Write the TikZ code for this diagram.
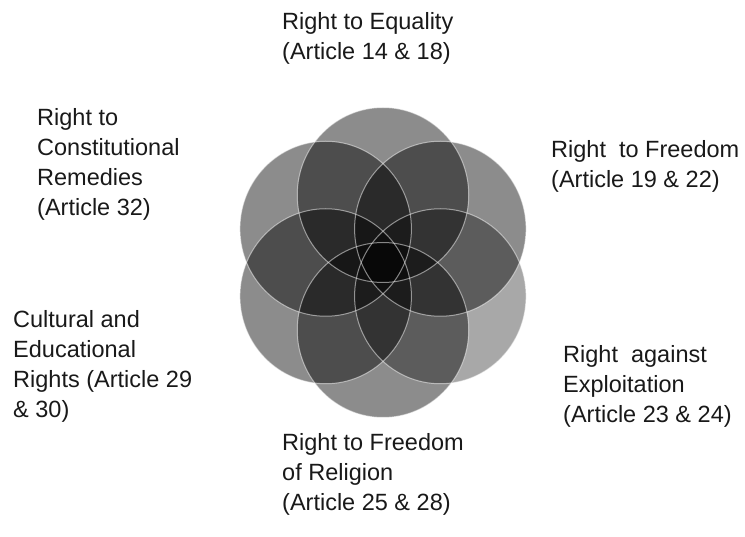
\documentclass[tikz,border=0pt]{standalone}
\usepackage{fontspec}
\setmainfont{Liberation Sans}
\begin{document}
\begin{tikzpicture}[x=1pt,y=-1pt,
  petal/.style={fill=black,fill opacity=0.45,draw=none},
  lightpetal/.style={fill=black,fill opacity=0.34,draw=none},
  rim/.style={draw=white,draw opacity=0.5,line width=1pt},
  lbl/.style={anchor=base west,align=left,inner sep=0pt,font=\fontsize{23.5}{30}\selectfont,text=black!90}]
\useasboundingbox (0,0) rectangle (745,537);
\begin{scope}[shift={(383,262.5)},xscale=0.98]
  \coordinate (ct) at (0,-67.5);
  \coordinate (ctr) at (58.5,-33.75);
  \coordinate (cbr) at (58.5,33.75);
  \coordinate (cb) at (0,67.5);
  \coordinate (cbl) at (-58.5,33.75);
  \coordinate (ctl) at (-58.5,-33.75);
  \fill[petal] (ct) circle[radius=87.5];
  \fill[petal] (ctr) circle[radius=87.5];
  \fill[lightpetal] (cbr) circle[radius=87.5];
  \fill[petal] (cb) circle[radius=87.5];
  \fill[petal] (cbl) circle[radius=87.5];
  \fill[petal] (ctl) circle[radius=87.5];
  \foreach \c in {ct,ctr,cbr,cb,cbl,ctl}
    \draw[rim] (\c) circle[radius=87.5];
\end{scope}
% base anchor of a multi-line node = baseline of its last line
\node[lbl] (eq) at (282,60) {Right to Equality\\(Article 14 \& 18)};
\node[lbl] (crem) at (37,216) {Right to\\Constitutional\\Remedies\\(Article 32)};
\node[lbl] (free) at (551,188) {Right\ \ to Freedom\\(Article 19 \& 22)};
\node[lbl] (cult) at (13,418) {Cultural and\\Educational\\Rights (Article 29\\\& 30)};
\node[lbl] (expl) at (563,423) {Right\ \ against\\Exploitation\\(Article 23 \& 24)};
\node[lbl] (rel) at (282,510) {Right to Freedom\\of Religion\\(Article 25 \& 28)};
\end{tikzpicture}
\end{document}
